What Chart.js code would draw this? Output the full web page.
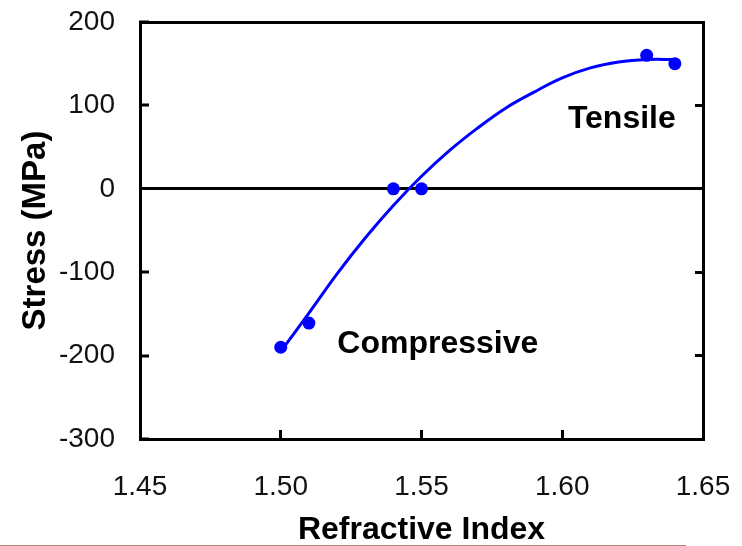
<!DOCTYPE html>
<html>
<head>
<meta charset="utf-8">
<script src="https://cdn.jsdelivr.net/npm/chart.js@4/dist/chart.umd.min.js"></script>
<style>
  html, body { margin: 0; padding: 0; background: #fff; }
  #wrap { position: relative; width: 742px; height: 546px; }
  #edge { position: absolute; left: 0; top: 545px; width: 686px; height: 1px; background: #b98080; }
</style>
</head>
<body>
<div id="wrap">
  <canvas id="c" width="742" height="546"></canvas>
  <div id="edge"></div>
</div>
<script>
// Measured data points (refractive index vs stress)
const measuredRI = [1.50, 1.51, 1.54, 1.55, 1.63, 1.64];
const measuredStress = [-190, -161, 0, 0, 160, 150];

// Fitted trend curve
const fitRI = [1.50, 1.51, 1.52, 1.53, 1.54, 1.55, 1.56, 1.57, 1.58, 1.59, 1.60, 1.61, 1.62, 1.63, 1.64];
const fitStress = [-195, -149, -102, -59, -20, 15, 46, 73, 97, 116, 133, 145, 152, 155, 155];

// Axis ticks
const xTicks = [1.45, 1.50, 1.55, 1.60, 1.65];
const yTicks = [200, 100, 0, -100, -200, -300];

// Annotation labels
const noteText = ['Compressive', 'Tensile'];
const noteRI = [1.5201, 1.602];
const noteStress = [-197, 73];

const FONT = "'Liberation Sans', Arial, sans-serif";
const BLUE = '#0000ff';

const notesPlugin = {
  id: 'notes',
  afterDatasetsDraw(chart) {
    const ctx = chart.ctx;
    const xs = chart.scales.x, ys = chart.scales.y;
    ctx.save();
    ctx.font = 'bold 32px ' + FONT;
    ctx.fillStyle = '#000';
    ctx.textAlign = 'left';
    ctx.textBaseline = 'alphabetic';
    noteText.forEach((t, i) => {
      ctx.fillText(t, xs.getPixelForValue(noteRI[i]), ys.getPixelForValue(noteStress[i]));
    });
    ctx.restore();
  }
};

const fixSize = (w, h) => (scale) => {
  if (w !== null) scale.width = w;
  if (h !== null) scale.height = h;
  scale.paddingLeft = 0;
  scale.paddingRight = 0;
  scale.paddingTop = 0;
  scale.paddingBottom = 0;
};

new Chart(document.getElementById('c'), {
  type: 'scatter',
  data: {
    datasets: [
      {
        label: 'fit',
        data: fitRI.map((x, i) => ({ x, y: fitStress[i] })),
        showLine: true,
        borderColor: BLUE,
        borderWidth: 3,
        pointRadius: 0,
        tension: 0.4,
        order: 2
      },
      {
        label: 'measured',
        data: measuredRI.map((x, i) => ({ x, y: measuredStress[i] })),
        showLine: false,
        backgroundColor: BLUE,
        borderColor: BLUE,
        pointRadius: 6.5,
        borderWidth: 0,
        order: 1
      }
    ]
  },
  options: {
    responsive: false,
    animation: false,
    devicePixelRatio: 1,
    layout: { padding: 0 },
    plugins: { legend: { display: false }, tooltip: { enabled: false } },
    scales: {
      x: {
        type: 'linear', position: 'bottom',
        min: xTicks[0], max: xTicks[xTicks.length - 1],
        afterBuildTicks: (s) => { s.ticks = xTicks.map(v => ({ value: v })); },
        afterFit: fixSize(null, 107),
        ticks: {
          padding: 40,
          color: '#111',
          font: { family: FONT, size: 28 },
          callback: (v) => Number(v).toFixed(2),
          maxRotation: 0, autoSkip: false
        },
        grid: { drawOnChartArea: false, drawTicks: true, tickLength: -9, tickWidth: 3, tickColor: '#000', color: '#000' },
        border: { display: true, color: '#000', width: 3 },
        title: {
          display: true, text: 'Refractive Index', color: '#000',
          font: { family: FONT, size: 32, weight: 'bold', lineHeight: 0.9 },
          padding: { top: 0, bottom: 1 }
        }
      },
      xTop: {
        type: 'linear', position: 'top',
        min: xTicks[0], max: xTicks[xTicks.length - 1],
        afterFit: fixSize(null, 22),
        ticks: { display: false },
        grid: { display: false },
        border: { display: true, color: '#000', width: 3 }
      },
      y: {
        type: 'linear', position: 'left',
        min: yTicks[yTicks.length - 1], max: yTicks[0],
        afterBuildTicks: (s) => { s.ticks = yTicks.map(v => ({ value: v })); },
        afterFit: fixSize(140, null),
        ticks: {
          padding: 34,
          color: '#111',
          font: { family: FONT, size: 28 }
        },
        grid: {
          drawOnChartArea: true, drawTicks: true, tickLength: -9, tickWidth: 3, tickColor: '#000',
          color: (c) => (c.tick && c.tick.value === 0) ? '#000' : 'rgba(0,0,0,0)',
          lineWidth: (c) => (c.tick && c.tick.value === 0) ? 3 : 0
        },
        border: { display: true, color: '#000', width: 3 },
        title: {
          display: true, text: 'Stress (MPa)', color: '#000',
          font: { family: FONT, size: 33, weight: 'bold', lineHeight: 1.2 },
          padding: { top: 16, bottom: 0 }
        }
      },
      yRight: {
        type: 'linear', position: 'right',
        min: yTicks[yTicks.length - 1], max: yTicks[0],
        afterBuildTicks: (s) => { s.ticks = yTicks.map(v => ({ value: v })); },
        afterFit: fixSize(39, null),
        ticks: { display: false },
        grid: { drawOnChartArea: false, drawTicks: true, tickLength: -8, tickWidth: 3, tickColor: '#000', color: '#000' },
        border: { display: true, color: '#000', width: 3 }
      }
    }
  },
  plugins: [notesPlugin]
});
</script>
</body>
</html>
